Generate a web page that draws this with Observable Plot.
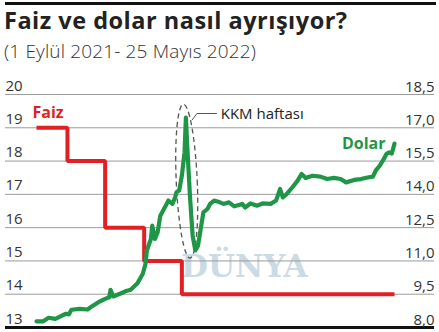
<!DOCTYPE html>
<html><head><meta charset="utf-8">
<script src="https://cdn.jsdelivr.net/npm/d3@7"></script>
<script src="https://cdn.jsdelivr.net/npm/@observablehq/plot@0.6"></script>
<style>
body{margin:0;background:#fff;}
#wrap{position:relative;width:439px;height:332px;overflow:hidden;font-family:"Open Sans",sans-serif;}
#rule{position:absolute;left:5px;top:2px;width:431px;height:3px;background:#111;}
#title{position:absolute;left:4px;top:4px;font-size:23.5px;font-weight:700;letter-spacing:0.5px;color:#222;white-space:nowrap;line-height:32px;}
#sub{position:absolute;left:4px;top:38px;font-size:19px;font-weight:300;letter-spacing:0.15px;color:#333;white-space:nowrap;line-height:26px;}
#wm{position:absolute;left:181px;top:251px;font-family:"DejaVu Serif",serif;font-weight:700;font-size:31px;line-height:31px;color:#cbdbe5;}
#chart{position:absolute;left:0;top:60px;}
</style></head><body>
<div id="wrap">
  <div id="rule"></div>
  <div id="title">Faiz ve dolar nasıl ayrışıyor?</div>
  <div id="sub">(1 Eylül 2021- 25 Mayıs 2022)</div>
  <div id="wm">DÜNYA</div>
  <div id="chart"></div>
</div>
<script>
// Policy rate (Faiz), %
const faizDates = ["2021-09-01","2021-09-24","2021-10-22","2021-11-20","2021-12-18","2022-05-25"];
const faizValues = [19, 18, 16, 15, 14, 14];

// USD/TRY (Dolar)
const dolarDates = ["2021-09-01","2021-09-06","2021-09-10","2021-09-15","2021-09-20","2021-09-23","2021-09-25","2021-09-27",
"2021-10-03","2021-10-09","2021-10-12","2021-10-17","2021-10-22","2021-10-25","2021-10-26","2021-10-28",
"2021-11-02","2021-11-06","2021-11-10","2021-11-15","2021-11-19","2021-11-21","2021-11-22","2021-11-25","2021-11-26","2021-11-28","2021-11-30",
"2021-12-02","2021-12-06","2021-12-08","2021-12-11","2021-12-13","2021-12-14","2021-12-16","2021-12-18","2021-12-20","2021-12-21","2021-12-22","2021-12-24","2021-12-26","2021-12-28","2021-12-30",
"2022-01-01","2022-01-03","2022-01-06","2022-01-08","2022-01-11","2022-01-14","2022-01-18","2022-01-22","2022-01-26",
"2022-02-01","2022-02-03","2022-02-07","2022-02-12","2022-02-16","2022-02-22","2022-02-26",
"2022-03-01","2022-03-03","2022-03-06","2022-03-10","2022-03-14","2022-03-17","2022-03-20","2022-03-25","2022-03-31",
"2022-04-05","2022-04-10","2022-04-15","2022-04-19","2022-04-25","2022-04-30",
"2022-05-05","2022-05-09","2022-05-11","2022-05-14","2022-05-17","2022-05-19","2022-05-21","2022-05-23","2022-05-25"];
const dolarValues = [8.28,8.28,8.44,8.39,8.54,8.62,8.59,8.80,
8.84,8.81,8.95,9.14,9.29,9.36,9.70,9.40,
9.52,9.63,9.70,9.99,10.42,10.87,11.47,11.99,12.59,11.99,12.29,
13.04,13.49,13.72,13.57,13.86,14.09,14.17,14.84,15.89,17.46,16.19,13.94,12.14,11.47,11.69,
12.44,13.19,13.34,13.57,13.72,13.67,13.57,13.64,13.46,
13.57,13.41,13.59,13.49,13.59,13.57,13.72,
14.24,13.86,14.02,14.31,14.62,14.92,14.74,14.84,14.80,
14.69,14.74,14.69,14.54,14.65,14.69,
14.76,14.80,15.07,15.29,15.59,15.82,15.89,15.84,16.29];

// Axes
const leftTicks = [13, 14, 15, 16, 17, 18, 19, 20];
const rightTicks = ["8,0", "9,5", "11,0", "12,5", "14,0", "15,5", "17,0", "18,5"];
const rightMin = 8.0, rightStep = 1.5;

// Annotation
const kkmLabel = "KKM haftası";
const kkmCenterDate = "2021-12-22";
const kkmCenterValue = 14.57;

const faiz = faizDates.map((d, i) => ({date: new Date(d), value: faizValues[i]}));
const dolar = dolarDates.map((d, i) => ({date: new Date(d), value: dolarValues[i]}));
const toLeft = v => leftTicks[0] + (v - rightMin) / rightStep;

const RED = "#e31f26", GREEN = "#1e9646";
const FONT = "Open Sans";

function kkmMark(index, scales) {
  const cx = scales.x(new Date(kkmCenterDate)), cy = scales.y(toLeft(kkmCenterValue));
  const g = d3.create("svg:g");
  g.append("ellipse").attr("cx", cx).attr("cy", cy).attr("rx", 10.5).attr("ry", 77)
    .attr("transform", `rotate(-2.5 ${cx} ${cy})`)
    .attr("fill", "none").attr("stroke", "#555").attr("stroke-width", 1.3).attr("stroke-dasharray", "5 3.5");
  g.append("path").attr("d", `M${cx + 5.2},${cy - 61}L${cx + 10.2},${cy - 67.7}H${cx + 30.2}`)
    .attr("fill", "none").attr("stroke", "#555").attr("stroke-width", 1);
  return g.node();
}

const chart = Plot.plot({
  width: 439, height: 272,
  marginLeft: 5, marginRight: 5, marginTop: 34, marginBottom: 5,
  style: {background: "transparent", overflow: "visible", fontFamily: FONT},
  x: {type: "utc", domain: [faiz[0].date, faiz[faiz.length - 1].date], range: [36, 394], axis: null},
  y: {domain: [leftTicks[0], leftTicks[leftTicks.length - 1]], axis: null},
  marks: [
    Plot.ruleY(leftTicks.slice(1), {stroke: "#9b9b9b", strokeWidth: 1}),
    Plot.ruleY([leftTicks[0]], {stroke: "#111", strokeWidth: 3}),
    Plot.text(leftTicks, {y: d => d, text: d => String(d), frameAnchor: "left", textAnchor: "start", lineAnchor: "bottom", dy: -4, fontSize: 15, fill: "#333"}),
    Plot.text(leftTicks, {y: d => d, text: (d, i) => rightTicks[i], frameAnchor: "right", textAnchor: "end", lineAnchor: "bottom", dy: -3, fontSize: 15, fill: "#333"}),
    kkmMark,
    Plot.line(faiz, {x: "date", y: "value", curve: "step-after", stroke: RED, strokeWidth: 4, strokeLinejoin: "miter", strokeLinecap: "butt"}),
    Plot.line(dolar, {x: "date", y: d => toLeft(d.value), stroke: GREEN, strokeWidth: 4.2, strokeLinejoin: "round", strokeLinecap: "round"}),
    Plot.text([faiz[0]], {x: "date", y: "value", text: () => "Faiz", textAnchor: "start", lineAnchor: "bottom", dx: -4, dy: -10, fontSize: 16, fontWeight: 700, fill: RED}),
    Plot.text([dolar[dolar.length - 1]], {x: "date", y: d => toLeft(d.value), text: () => "Dolar", textAnchor: "end", lineAnchor: "bottom", dx: -9, dy: 5, fontSize: 16, fontWeight: 700, fill: GREEN}),
    Plot.text([{date: new Date(kkmCenterDate), value: kkmCenterValue}], {x: "date", y: d => toLeft(d.value), text: () => kkmLabel, textAnchor: "start", lineAnchor: "middle", dx: 33.5, dy: -67.7, fontSize: 15, fill: "#222"})
  ]
});
document.getElementById("chart").appendChild(chart);
</script>
</body></html>
